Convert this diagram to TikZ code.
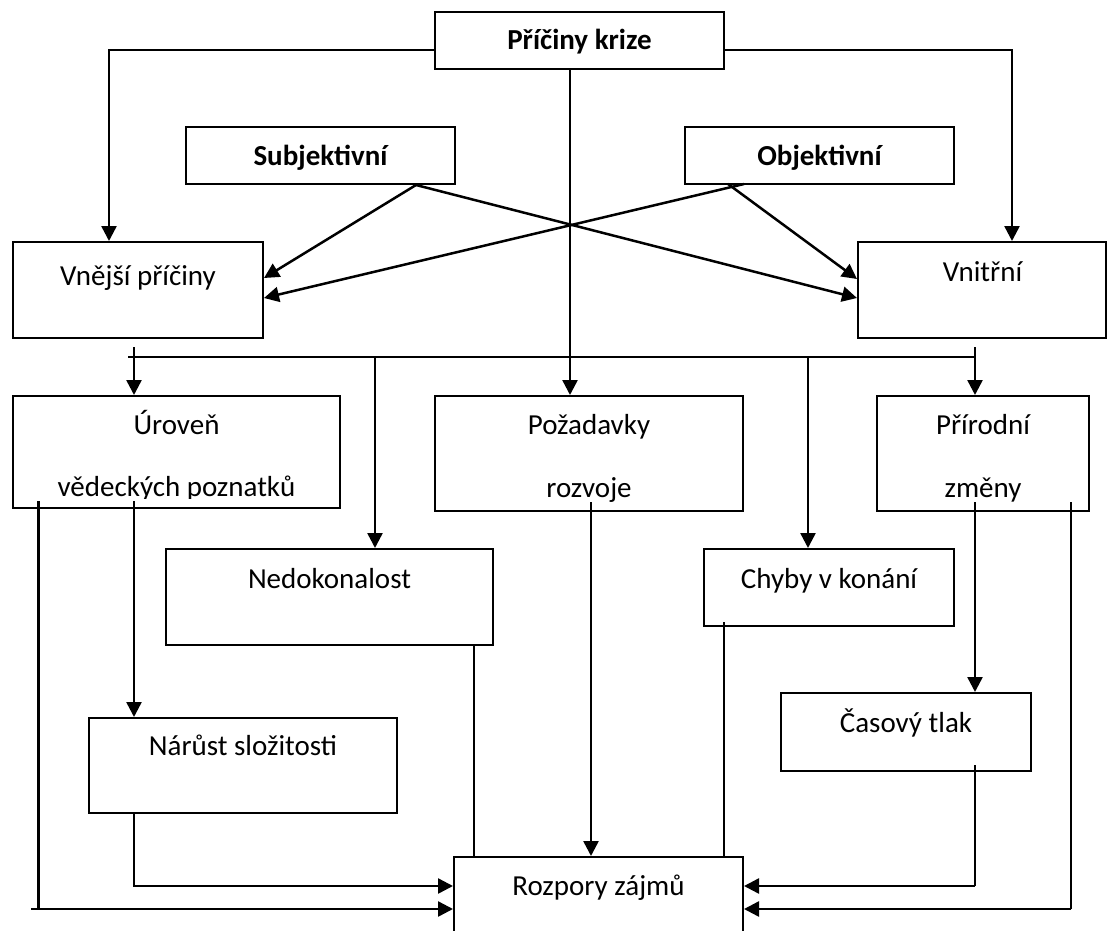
\documentclass[tikz,border=0pt]{standalone}
\usepackage{fontspec}
\setmainfont{Carlito}
\usetikzlibrary{arrows.meta,calc}
\newcommand\bxx[5]{\node[box,minimum width={#4-#2},minimum height={#5-#3}] (#1) at ({(#2+#4)/2},{(#3+#5)/2}) {};}
\begin{document}
\begin{tikzpicture}[x=1pt,y=-1pt,
  box/.style={draw,line width=2pt,inner sep=0pt},
  lbl/.style={font=\fontsize{29}{32}\selectfont,inner sep=0pt,anchor=base},
  blbl/.style={lbl,font=\fontsize{29}{32}\selectfont\bfseries},
  conn/.style={line width=2.5pt},
  thinc/.style={line width=1.8pt},
  arr/.style={conn,-{Triangle[length=15pt,width=15pt]}}]
\useasboundingbox (0,0) rectangle (1108,931);
\clip (0,0) rectangle (1108,931);
% boxes
\bxx{pk}{435}{12}{724}{69}
\bxx{sub}{186}{127}{455}{184}
\bxx{obj}{685}{127}{954}{184}
\bxx{vne}{13}{242}{263}{338}
\bxx{vni}{858}{242}{1106}{338}
\bxx{uro}{13}{396}{340}{508}
\bxx{poz}{435}{396}{743}{511}
\bxx{pri}{877}{396}{1089}{511}
\bxx{ned}{166}{549}{493}{645}
\bxx{chy}{704}{549}{954}{626}
\bxx{nar}{89}{718}{397}{813}
\bxx{cas}{781}{693}{1031}{771}
\bxx{roz}{454}{857}{743}{960}
% texts
\node[blbl] (pk-t) at (579.5,50) {Příčiny krize};
\node[blbl] (sub-t) at (320.5,165) {Subjektivní};
\node[blbl] (obj-t) at (819.5,165) {Objektivní};
\node[lbl] (vne-t) at (138,285) {Vnější příčiny};
\node[lbl] (vni-t) at (982.5,281) {Vnitřní};
\node[lbl] (uro-t1) at (176.5,434) {Úroveň};
\begin{scope}
\clip (13,396) rectangle (340,498);
\node[lbl] (uro-t2) at (176.5,496) {vědeckých poznatků};
\end{scope}
\node[lbl] (poz-t1) at (589,434) {Požadavky};
\node[lbl] (poz-t2) at (589,497) {rozvoje};
\node[lbl] (pri-t1) at (983,434) {Přírodní};
\node[lbl] (pri-t2) at (983,497) {změny};
\node[lbl] (ned-t) at (329.5,588) {Nedokonalost};
\node[lbl] (chy-t) at (829,588) {Chyby v konání};
\node[lbl] (nar-t) at (243,755) {Nárůst složitosti};
\node[lbl] (cas-t) at (906,732) {Časový tlak};
\node[lbl] (roz-t) at (598.5,895) {Rozpory zájmů};
% top connectors
\coordinate (tl) at (109,50);
\coordinate (tr) at (1012,50);
\coordinate (tc) at (570,0);
\draw[arr] (pk.west |- tl) -| (vne.north -| tl);
\draw[arr] (pk.east |- tr) -| (vni.north -| tr);
\draw[arr] (pk.south -| tc) -- (poz.north -| tc);
\coordinate (sa) at (416,185);
\coordinate (oa) at (728,184);
\coordinate (ob) at (744,184);
\draw[arr] (sa) -- (vne.east |- 0,278);
\draw[arr] (sa) -- (vni.west |- 0,298);
\draw[arr] (oa) -- (vni.west |- 0,279);
\draw[arr] (ob) -- (vne.east |- 0,298);
% distribution bus
\coordinate (busL) at (128,357);
\coordinate (busR) at (975,357);
\draw[conn] (busL) -- (busR);
\coordinate (b1) at (134,347);
\coordinate (b2) at (375,357);
\coordinate (b4) at (808,357);
\coordinate (b5) at (975,347);
\draw[arr] (b1) -- (b1 |- uro.north);
\draw[arr] (b2) -- (b2 |- ned.north);
\draw[arr] (b4) -- (b4 |- chy.north);
\draw[arr] (b5) -- (b5 |- pri.north);
% lower connectors
\coordinate (u1) at (134,501);
\coordinate (u2) at (38.5,501);
\coordinate (u3) at (31,909);
\coordinate (r1) at (0,886);
\draw[arr] (u1) -- (u1 |- nar.north);
\draw[conn] (u2) -- (u2 |- u3);
\draw[arr] (u3) -- (u3 -| roz.west);
\draw[arr] (nar.south -| u1) |- (r1 -| roz.west);
\coordinate (n1) at (474,0);
\draw[thinc] (ned.south -| n1) -- (roz.north -| n1);
\coordinate (p1) at (591,502);
\draw[arr] (p1) -- (p1 |- roz.north);
\coordinate (c1) at (724,622);
\draw[thinc] (c1) -- (c1 |- roz.north);
\coordinate (q1) at (975,502);
\draw[arr] (q1) -- (q1 |- cas.north);
\coordinate (q2) at (1071,502);
\coordinate (q3) at (1071,909);
\draw[conn] (q2) -- (q3);
\draw[arr] (q3) -- (q3 -| roz.east);
\coordinate (t1) at (975,765);
\draw[thinc] (t1) -- (t1 |- r1);
\draw[arr] (t1 |- r1) -- (r1 -| roz.east);
\end{tikzpicture}
\end{document}
